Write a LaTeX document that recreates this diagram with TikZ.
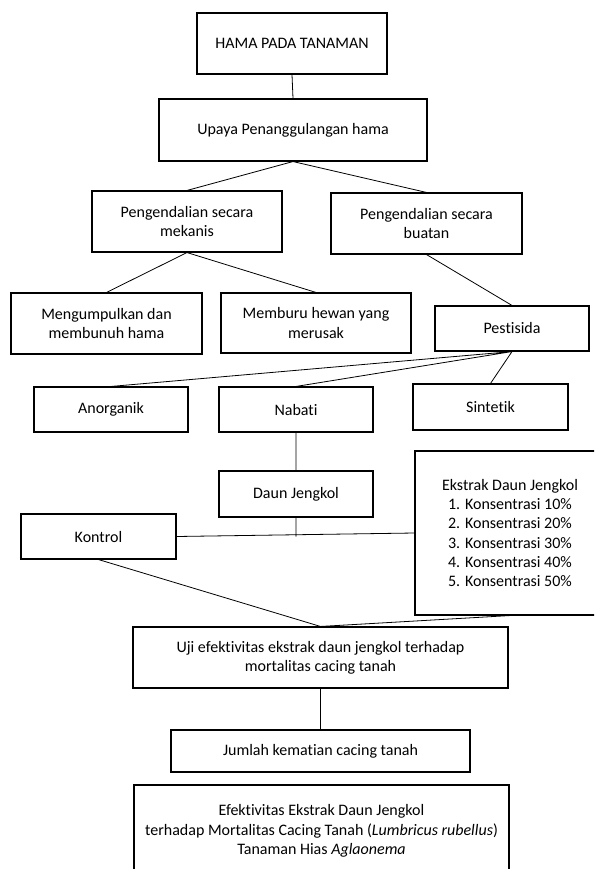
\documentclass[tikz,border=0pt]{standalone}
\usepackage{fontspec}
\setmainfont{Carlito}[Ligatures={NoCommon}]

\begin{document}
\begin{tikzpicture}[x=1pt,y=-1pt,
    kotak/.style={rectangle, draw, line width=1.1pt, align=center, font=\fontsize{16}{19.2}\selectfont},
    garis/.style={line width=0.8pt}]
    \useasboundingbox (0,0) rectangle (594,869);
    \clip (0,0) rectangle (594,869);

    \path
    (292,43.5)node[kotak, minimum width=190pt, minimum height=61pt](hama){HAMA PADA TANAMAN}
    (293,130)node[kotak, minimum width=268pt, minimum height=62pt](upaya){Upaya Penanggulangan hama}

    (187,221.5)node[kotak, minimum width=190pt, minimum height=61pt](mekanis){Pengendalian secara\\ mekanis}
    (426.5,223.5)node[kotak, minimum width=191pt, minimum height=61pt](buatan){Pengendalian secara\\ buatan}

    (106.5,323.5)node[kotak, minimum width=191pt, minimum height=61pt](kumpul){Mengumpulkan dan\\ membunuh hama}
    (316,323)node[kotak, minimum width=190pt, minimum height=60pt](buru){Memburu hewan yang\\ merusak}
    (512,328.5)node[kotak, minimum width=154pt, minimum height=45pt](pestisida){Pestisida}

    (111,409.5)node[kotak, minimum width=154pt, minimum height=45pt](anorganik){Anorganik}
    (296,409.5)node[kotak, minimum width=154pt, minimum height=45pt](nabati){Nabati}
    (490.5,407)node[kotak, minimum width=155pt, minimum height=46pt](sintetik){Sintetik}

    (296,494)node[kotak, minimum width=154pt, minimum height=46pt](daun){Daun Jengkol}
    (98.5,536.5)node[kotak, minimum width=155pt, minimum height=45pt](kontrol){Kontrol}
    (510,533)node[kotak, minimum width=190pt, minimum height=164pt](ekstrak){Ekstrak Daun Jengkol\\ 1. Konsentrasi 10\%\\ 2. Konsentrasi 20\%\\ 3. Konsentrasi 30\%\\ 4. Konsentrasi 40\%\\ 5. Konsentrasi 50\%}

    (320.5,657.5)node[kotak, minimum width=375pt, minimum height=61pt](uji){Uji efektivitas ekstrak daun jengkol terhadap\\ mortalitas cacing tanah}
    (320.5,751)node[kotak, minimum width=299pt, minimum height=42pt](jumlah){Jumlah kematian cacing tanah}
    (321.5,831)node[kotak, minimum width=375pt, minimum height=92pt](efek){Efektivitas Ekstrak Daun Jengkol\\ terhadap Mortalitas Cacing Tanah (\textit{Lumbricus rubellus})\\ Tanaman Hias \textit{Aglaonema}}
    ;

    \draw[garis]
    (hama.south) -- (upaya.north)
    (upaya.south) -- (mekanis.north)
    (upaya.south) -- (buatan.north)
    (mekanis.south) -- (kumpul.north)
    (mekanis.south) -- (buru.north)
    (buatan.south) -- (pestisida.north)
    (pestisida.south) -- (anorganik.north)
    (pestisida.south) -- (nabati.north)
    (pestisida.south) -- (sintetik.north)
    (nabati.south) -- (daun.north)
    (kontrol.east) -- (ekstrak.west)
    (daun.south) -- (daun.south |- kontrol.east)
    (kontrol.south) -- (uji.north)
    (ekstrak.south) -- (uji.north)
    (uji.south) -- (jumlah.north)
    ;
\end{tikzpicture}
\end{document}
